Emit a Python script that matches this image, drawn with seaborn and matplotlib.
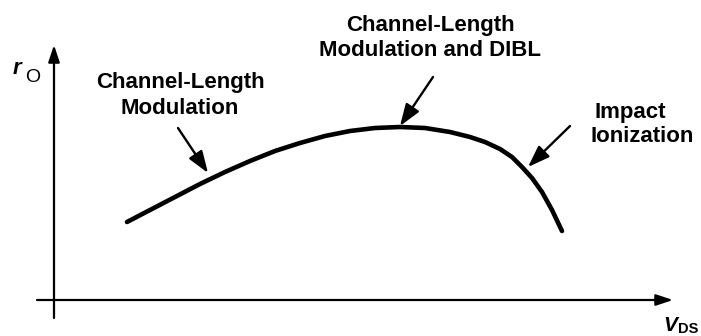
import matplotlib
matplotlib.use("Agg")
import matplotlib.pyplot as plt
import seaborn as sns
import pandas as pd

# Output resistance r_O versus drain-source voltage V_DS (arbitrary units)
vds = [7.3, 9.6, 12.1, 14.6, 17.1, 19.6, 22.1, 24.6, 27.1, 29.6, 32.1, 34.6,
       37.1, 39.6, 41.6, 43.1, 44.6, 45.8, 46.8, 47.8, 48.8, 49.8, 50.8]
r_out = [7.8, 9.0, 10.3, 11.6, 12.8, 13.9, 14.9, 15.7, 16.4, 16.9, 17.2, 17.3,
         17.2, 16.8, 16.3, 15.8, 15.1, 14.3, 13.3, 12.2, 10.8, 9.0, 6.9]

# Annotations: label lines, label anchors, arrow tail and arrow tip
labels = [
    ["Channel-Length", "Modulation"],
    ["Channel-Length", "Modulation and DIBL"],
    ["Impact", "Ionization"],
]
label_x = [[12.6, 12.6], [37.6, 37.6], [57.6, 58.8]]
label_y = [[21.2, 18.6], [26.9, 24.4], [18.2, 15.8]]
arrow_tail = [(12.4, 17.2), (37.9, 22.3), (51.6, 17.4)]
arrow_tip = [(15.4, 12.7), (34.6, 17.4), (47.4, 13.3)]

df = pd.DataFrame({"V_DS": vds, "r_O": r_out})

sns.set_theme(style="white")
plt.rcParams["font.family"] = ["Liberation Sans", "DejaVu Sans"]

fig = plt.figure(figsize=(7.01, 3.36), dpi=100)
ax = fig.add_axes([0, 0, 1, 1])
ax.set_xlim(-5.4, 64.7)
ax.set_ylim(-3.6, 30.0)
ax.axis("off")

# Coordinate axes drawn as arrows
axis_kw = dict(arrowstyle="-|>,head_length=0.6,head_width=0.2",
               mutation_scale=17, lw=1.6, color="black",
               shrinkA=0, shrinkB=0)
ax.annotate("", xy=(0, 25.5), xytext=(0, -1.8), arrowprops=axis_kw)
ax.annotate("", xy=(61.9, 0), xytext=(-1.7, 0), arrowprops=axis_kw)

sns.lineplot(data=df, x="V_DS", y="r_O", ax=ax, color="black", lw=3.3,
             sort=False, legend=False)

# Axis labels
ax.text(-4.1, 22.6, "r", fontsize=16, style="italic", fontweight="bold",
        color="black", ha="left", va="baseline")
ax.text(-2.9, 21.8, "O", fontsize=14, color="black",
        ha="left", va="baseline")
ax.text(60.9, -3.1, "V", fontsize=15, style="italic", fontweight="bold",
        color="black", ha="left", va="baseline")
ax.text(62.4, -3.3, "DS", fontsize=10.5, fontweight="bold",
        color="black", ha="left", va="baseline")

note_kw = dict(arrowstyle="-|>,head_length=0.7,head_width=0.25",
               mutation_scale=19, lw=1.7, color="black",
               shrinkA=0, shrinkB=0)
for lines, xs, ys, tail, tip in zip(labels, label_x, label_y,
                                    arrow_tail, arrow_tip):
    for line, x, y in zip(lines, xs, ys):
        ax.text(x, y, line, fontsize=16, fontweight="bold", color="black",
                ha="center", va="baseline")
    ax.annotate("", xy=tip, xytext=tail, arrowprops=note_kw)

fig.savefig("out.png", dpi=100)
